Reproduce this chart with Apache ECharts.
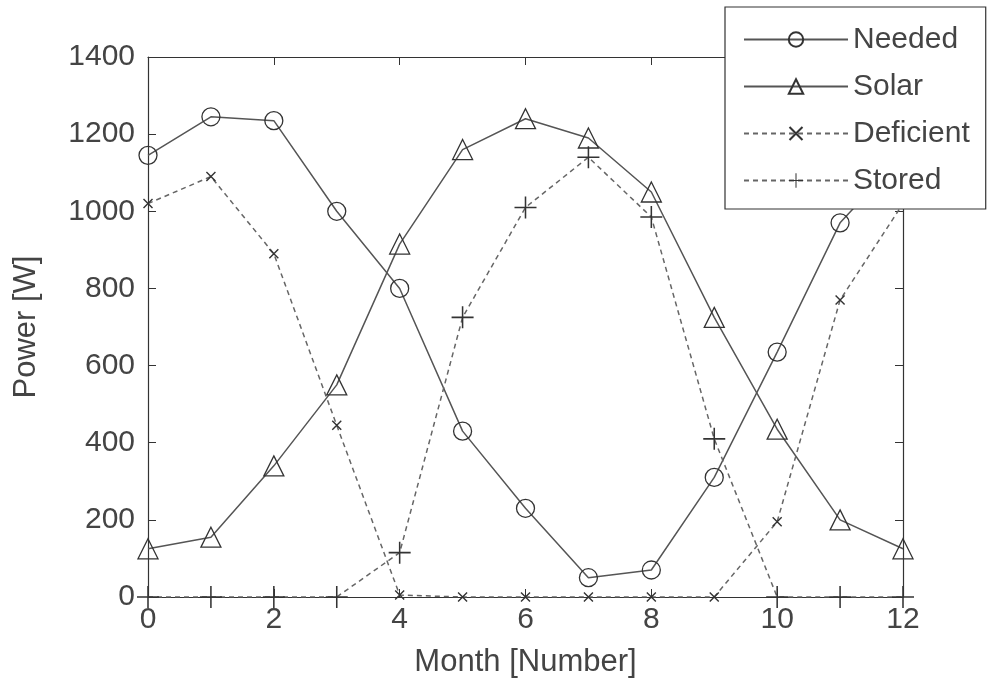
<!DOCTYPE html>
<html>
<head>
<meta charset="utf-8">
<script src="https://cdn.jsdelivr.net/npm/echarts@6/dist/echarts.min.js"></script>
<style>
  html, body { margin: 0; padding: 0; background: #fff; }
  #chart { width: 989px; height: 683px; }
</style>
</head>
<body>
<div id="chart"></div>
<script>
// month index 0..12, power in W
const months = [0, 1, 2, 3, 4, 5, 6, 7, 8, 9, 10, 11, 12]
const needed = [1145, 1245, 1235, 1000, 800, 430, 230, 50, 70, 310, 635, 970, 1145]
const solar = [125, 155, 340, 550, 915, 1160, 1240, 1190, 1050, 725, 435, 200, 125]
const deficient = [1020, 1090, 890, 445, 5, 0, 0, 0, 0, 0, 195, 770, 1020]
const stored = [0, 0, 0, 0, 115, 725, 1010, 1140, 985, 410, 0, 0, 0]

const INK = '#333'
const TXT = '#444'
const FONT = 'Arial, "Liberation Sans", sans-serif'

const crossPath = 'path://M0,1L1,0L10,9L9,10Z M9,0L10,1L1,10L0,9Z'
const plusPath = 'path://M4.65,0h0.7v10h-0.7z M0,4.65h10v0.7h-10z'

const pairs = (ys) => months.map((m, i) => [m, ys[i]])

const chart = echarts.init(document.getElementById('chart'))

const axisCommon = {
  min: 0,
  axisLine: { show: true, onZero: false, lineStyle: { color: INK, width: 1.2 } },
  axisTick: { show: true, inside: true, length: 8, lineStyle: { color: INK } },
  splitLine: { show: false },
  axisLabel: { color: TXT, fontSize: 30, fontFamily: FONT, formatter: (v) => String(v) }
}

chart.setOption({
  animation: false,
  backgroundColor: '#fff',
  grid: { left: 148, right: 86, top: 57, bottom: 86 },
  xAxis: [
    {
      ...axisCommon,
      type: 'value', max: 12, interval: 2, position: 'bottom',
      axisLabel: { ...axisCommon.axisLabel, margin: 8 },
      name: 'Month [Number]', nameLocation: 'middle', nameGap: 50,
      nameTextStyle: { color: TXT, fontSize: 31, fontFamily: FONT }
    },
    {
      ...axisCommon,
      type: 'value', max: 12, interval: 2, position: 'top',
      axisLabel: { show: false }
    }
  ],
  yAxis: [
    {
      ...axisCommon,
      type: 'value', max: 1400, interval: 200, position: 'left',
      axisLabel: { ...axisCommon.axisLabel, margin: 13 },
      name: 'Power [W]', nameLocation: 'middle', nameGap: 106,
      nameTextStyle: { color: TXT, fontSize: 31, fontFamily: FONT }
    },
    {
      ...axisCommon,
      type: 'value', max: 1400, interval: 200, position: 'right',
      axisLabel: { show: false }
    }
  ],
  legend: {
    orient: 'vertical',
    left: 725, top: 7,
    padding: [17, 16, 13, 18],
    itemWidth: 104, itemHeight: 18, itemGap: 16,
    backgroundColor: '#fff',
    borderColor: INK, borderWidth: 1.2,
    textStyle: { color: TXT, fontSize: 30, fontFamily: FONT, lineHeight: 31 },
    data: ['Needed', 'Solar', 'Deficient', 'Stored']
  },
  series: [
    {
      name: 'Needed', type: 'line', data: pairs(needed),
      symbol: 'circle', symbolSize: 18,
      itemStyle: { color: 'transparent', borderColor: INK, borderWidth: 1.3 },
      lineStyle: { color: '#555', width: 1.5 }
    },
    {
      name: 'Solar', type: 'line', data: pairs(solar),
      symbol: 'triangle', symbolSize: 20,
      itemStyle: { color: 'transparent', borderColor: INK, borderWidth: 1.3 },
      lineStyle: { color: '#555', width: 1.5 }
    },
    {
      name: 'Deficient', type: 'line', data: pairs(deficient),
      symbol: crossPath, symbolSize: 10,
      itemStyle: { color: INK },
      lineStyle: { color: '#666', width: 1.5, type: [5, 4] }
    },
    {
      name: 'Stored', type: 'line', data: pairs(stored),
      symbol: plusPath, symbolSize: 22,
      itemStyle: { color: INK },
      lineStyle: { color: '#666', width: 1.5, type: [5, 4] }
    }
  ]
})
</script>
</body>
</html>
